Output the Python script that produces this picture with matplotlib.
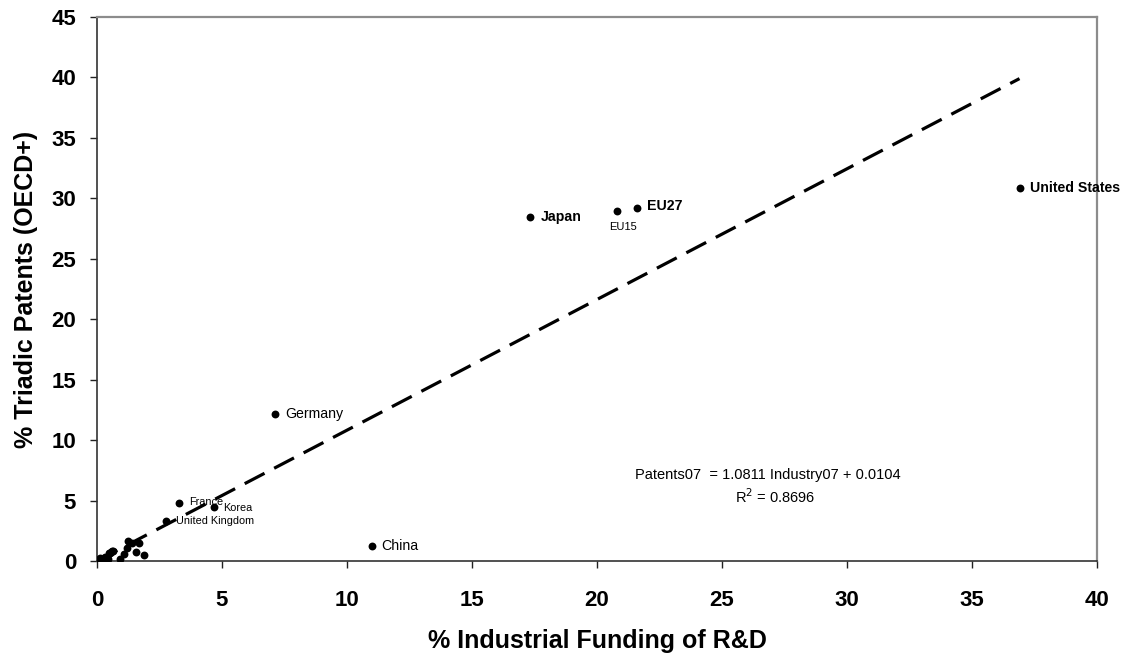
import matplotlib
matplotlib.use("Agg")
import matplotlib.pyplot as plt
import numpy as np

plt.rcParams['font.family'] = ['Liberation Sans', 'DejaVu Sans']

# Labelled countries / regions
labels = ["United States", "Japan", "EU15", "EU27", "Germany", "China",
          "France", "Korea", "United Kingdom"]
lab_x = [36.9, 17.3, 20.78, 21.58, 7.1, 10.98, 3.28, 4.68, 2.75]
lab_y = [30.85, 28.45, 28.97, 29.17, 12.2, 1.24, 4.82, 4.44, 3.31]

# Unlabelled small countries (cluster near origin)
small_x = [1.24, 1.40, 1.68, 1.20, 1.54, 1.87, 1.08, 0.91, 0.60, 0.48,
           0.31, 0.11, 0.02, 0.44, 0.18, 0.38, 0.55, 0.65, 0.25, 0.08, 0.52]
small_y = [1.68, 1.51, 1.46, 1.05, 0.72, 0.47, 0.58, 0.17, 0.85, 0.64,
           0.36, 0.22, 0.06, 0.14, 0.08, 0.36, 0.78, 0.82, 0.15, 0.03, 0.70]

slope = 1.0811
intercept = 0.0104
r2 = 0.8696

x_ticks = [0, 5, 10, 15, 20, 25, 30, 35, 40]
y_ticks = [0, 5, 10, 15, 20, 25, 30, 35, 40, 45]

fig = plt.figure(figsize=(11.27, 6.59), dpi=100)
ax = fig.add_axes([97/1127, 1 - 561/659, 1000/1127, 544/659])

all_x = np.array(lab_x + small_x)
all_y = np.array(lab_y + small_y)
ax.scatter(all_x, all_y, s=32, color='black', zorder=3, linewidths=0)

# trendline
xl = np.array([all_x.min(), all_x.max()])
line, = ax.plot(xl, slope * xl + intercept, color='black', lw=2.3, zorder=2)
line.set_dashes([7.0, 3.4])

ax.set_xlim(0, 40)
ax.set_ylim(0, 45)
ax.set_xticks(x_ticks)
ax.set_yticks(y_ticks)
ax.tick_params(axis='both', direction='out', length=5, width=1, colors='#222222',
               labelsize=16, labelcolor='black')
ax.tick_params(axis='x', pad=16)
ax.tick_params(axis='y', pad=10)
for lab in ax.get_xticklabels() + ax.get_yticklabels():
    lab.set_fontweight('bold')

for s in ['left', 'bottom']:
    ax.spines[s].set_color('#333333')
    ax.spines[s].set_linewidth(1.2)
for s in ['top', 'right']:
    ax.spines[s].set_color('#8c8c8c')
    ax.spines[s].set_linewidth(1.6)

ax.set_xlabel('% Industrial Funding of R&D', fontsize=18, fontweight='bold', labelpad=13)
ax.set_ylabel('% Triadic Patents (OECD+)', fontsize=18, fontweight='bold', labelpad=10)

# point labels
def lab(i, dx, dy, size, weight='normal', va='center'):
    ax.annotate(labels[i], (lab_x[i], lab_y[i]), xytext=(dx, dy),
                textcoords='offset pixels', fontsize=size, fontweight=weight,
                ha='left', va=va, annotation_clip=False)

lab(0, 10, 0, 10.2, 'bold')
lab(1, 11, 0, 10.2, 'bold')
lab(3, 11, 2, 10.2, 'bold')
lab(2, -7, -16, 8)
lab(4, 11, 0, 10.2)
lab(5, 10, 0, 10.2)
lab(6, 10, 1, 7.8)
lab(7, 9, -1, 7.8)
lab(8, 10, 0, 7.8)

ax.text(768, 659 - 475, 'Patents07  = 1.0811 Industry07 + 0.0104',
        transform=None, fontsize=10.5, ha='center', va='center')
ax.text(775, 659 - 497, r'R$^2$ = 0.8696', transform=None,
        fontsize=10.5, ha='center', va='center')

fig.savefig('out.png', dpi=100)
